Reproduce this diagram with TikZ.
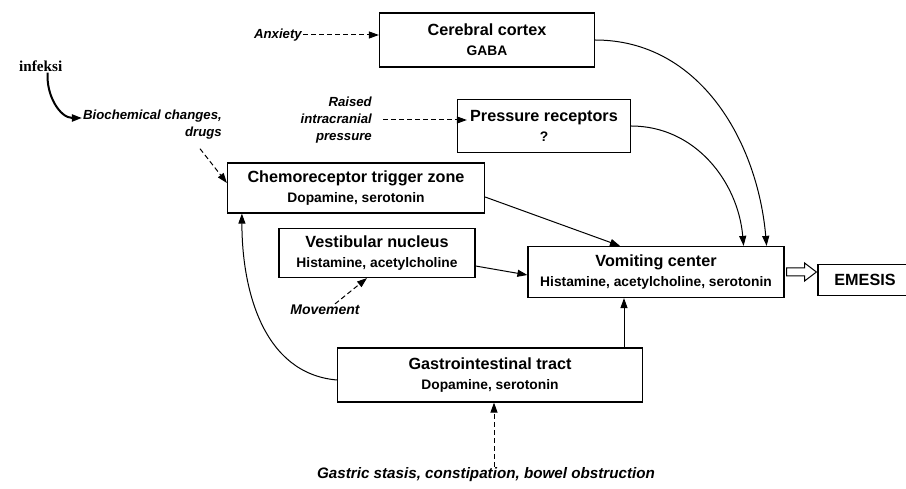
\documentclass[tikz,border=0pt]{standalone}
\usepackage{fontspec}
\setmainfont{Liberation Sans}
\newfontfamily\infserif{Liberation Serif}
\usetikzlibrary{arrows.meta,positioning}
\tikzset{
  centerbox/.style={
    draw=black,
    line width=1.2pt,
    align=center,
    inner sep=2pt,
    font=\fontsize{16.2}{20}\selectfont\bfseries
  },
  causelabel/.style={
    align=right,
    inner sep=1pt,
    font=\fontsize{13.2}{17}\selectfont\bfseries\itshape
  },
  pathway/.style={
    -{Triangle[length=10pt,width=7pt]},
    line width=1pt
  },
  stimulus/.style={
    pathway,
    dash pattern=on 5pt off 3pt
  },
  blockarrow/.style={
    line width=1pt,
    line join=miter
  }
}
\newcommand{\subline}[1]{{\fontsize{13.8}{17}\selectfont #1}}

\begin{document}
\begin{tikzpicture}[x=1pt,y=-1pt]
  \useasboundingbox (0,0) rectangle (906,489);
  \node[centerbox, minimum width=215, minimum height=54] (cortex) at (487,40) {Cerebral cortex\\\subline{GABA}};
  \node[centerbox, minimum width=173, minimum height=53] (pressure) at (544,126) {Pressure receptors\\\subline{?}};
  \node[centerbox, minimum width=257, minimum height=50] (ctz) at (356,188) {Chemoreceptor trigger zone\\\subline{Dopamine, serotonin}};
  \node[centerbox, minimum width=196, minimum height=49] (vest) at (377,253) {Vestibular nucleus\\\subline{Histamine, acetylcholine}};
  \node[centerbox, minimum width=256, minimum height=51] (vomit) at (656,272) {Vomiting center\\\subline{Histamine, acetylcholine, serotonin}};
  \node[centerbox, minimum width=94, minimum height=31] (emesis) at (865,280) {EMESIS};
  \node[centerbox, minimum width=305, minimum height=54] (gi) at (490,375) {Gastrointestinal tract\\\subline{Dopamine, serotonin}};

  \node[causelabel, anchor=east] (anxiety) at (303,35) {Anxiety};
  \node[anchor=west, inner sep=1pt, font=\infserif\bfseries\fontsize{15.2}{18}\selectfont] (infeksi) at (18,66) {infeksi};
  \node[causelabel, anchor=north east] (biochem) at (223,109) {Biochemical changes,\\drugs};
  \node[causelabel, anchor=east] (raised) at (373,120) {Raised\\intracranial\\pressure};
  \node[causelabel, font=\fontsize{14}{17}\selectfont\bfseries\itshape] (movement) at (325,310) {Movement};
  \node[causelabel, font=\fontsize{15.2}{18}\selectfont\bfseries\itshape] (gastric) at (486,475) {Gastric stasis, constipation, bowel obstruction};

  \draw[stimulus] (anxiety.east) -- (anxiety.east -| cortex.west);
  \draw[pathway, line width=2pt] ([xshift=7pt]infeksi.south) to[out=-95,in=180] ([yshift=-9pt]biochem.north west);
  \draw[stimulus] ([xshift=-23pt,yshift=-8pt]biochem.south east) -- ([yshift=5pt]ctz.west);
  \draw[stimulus] ([xshift=10pt]raised.east) -- ([xshift=10pt]raised.east -| pressure.west);
  \draw[stimulus] ([xshift=10pt]movement.north) -- ([xshift=-10pt]vest.south);
  \draw[stimulus] ([xshift=8pt]gastric.north) -- ([xshift=8pt]gastric.north |- gi.south);

  \draw[pathway] (cortex.east) to[out=0,in=95] ([xshift=-18pt]vomit.north east);
  \draw[pathway] (pressure.east) to[out=0,in=95] ([xshift=-41pt]vomit.north east);
  \draw[pathway] ([yshift=-9pt]ctz.east) -- ([xshift=-36pt]vomit.north);
  \draw[pathway] ([yshift=-13pt]vest.east) -- ([yshift=-3pt]vomit.west);
  \draw[pathway] ([xshift=-32pt]vomit.south |- gi.north) -- ([xshift=-32pt]vomit.south);
  \draw[pathway] ([yshift=-5pt]gi.west) to[out=175,in=-90] ([xshift=15pt]ctz.south west);
  \draw[blockarrow] ([xshift=2pt,yshift=4pt]vomit.east) -- ++(18,0) -- ++(0,-5) -- ([xshift=-1pt]emesis.west |- vomit.east) -- ([xshift=20pt,yshift=-9pt]vomit.east) -- ++(0,-5) -- ([xshift=2pt,yshift=-4pt]vomit.east) -- cycle;
\end{tikzpicture}
\end{document}
